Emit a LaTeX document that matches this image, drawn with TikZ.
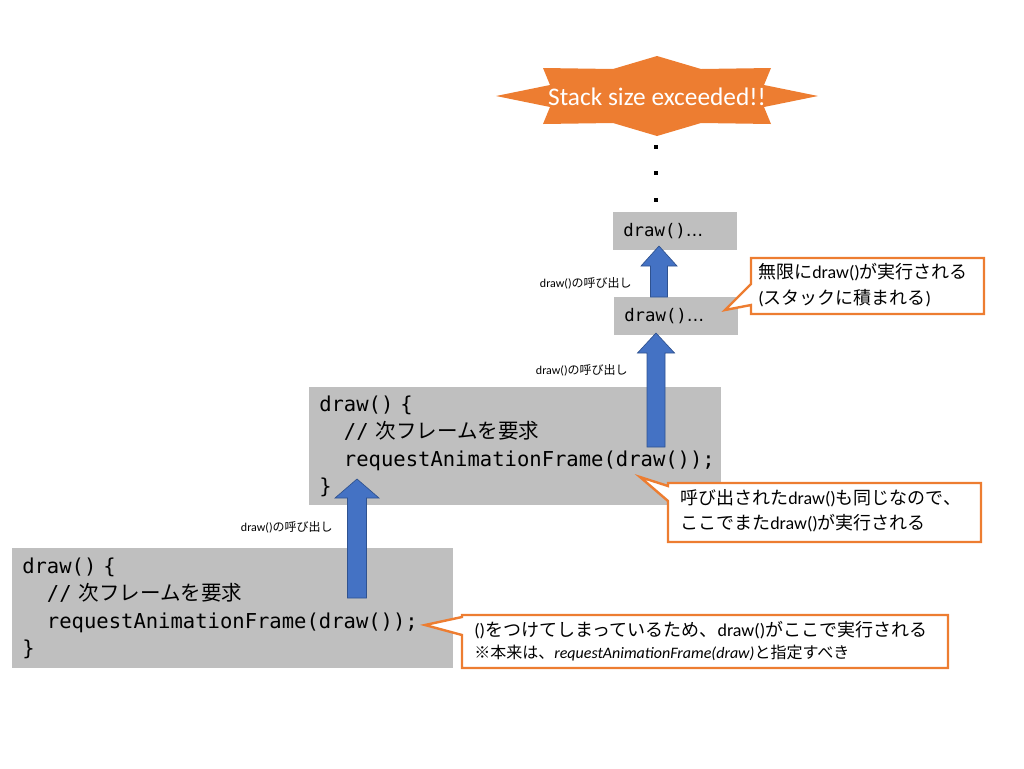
\documentclass[tikz,border=0pt]{standalone}
\usepackage{fontspec}
\setmainfont{Carlito}
\newfontfamily\cjk{Noto Sans CJK JP}
\newfontfamily\codefont{DejaVu Sans Mono}
\newfontfamily\dvs{DejaVu Sans}
\usetikzlibrary{arrows.meta,calc}
\definecolor{codegray}{HTML}{BFBFBF}
\definecolor{orng}{HTML}{ED7D31}
\definecolor{blu}{HTML}{4472C4}
\definecolor{bluedge}{HTML}{2F528F}
\newcommand{\J}[1]{{\cjk #1}}
\newcommand{\uparrowblock}[5]{%
  \filldraw[blockarr] let \p1=(#1), \p2=(#2) in
  ({\x1-#3},\y1) -- ({\x1-#3},{\y2-#5}) -- ({\x1-#4},{\y2-#5}) -- (\x2,\y2)
  -- ({\x1+#4},{\y2-#5}) -- ({\x1+#3},{\y2-#5}) -- ({\x1+#3},\y1) -- cycle;}
\begin{document}
\begin{tikzpicture}[x=0.75pt,y=-0.75pt,
  codebox/.style={fill=codegray, inner xsep=7.5pt, inner ysep=0pt, anchor=north west,
    align=left, font=\codefont\fontsize{15.4}{20.5}\selectfont},
  smallbox/.style={fill=codegray, inner xsep=7.5pt, inner ysep=0pt, anchor=north west,
    align=left, text width=78pt, minimum height=28pt, font=\codefont\fontsize{13}{15}\selectfont},
  blockarr/.style={fill=blu, draw=bluedge, line width=0.5pt},
  callout/.style={fill=white, draw=orng, line width=1.8pt, line join=miter},
  callouttext/.style={anchor=west, inner sep=0pt, align=left, font=\fontsize{13.5}{19}\selectfont},
  calllabel/.style={anchor=east, inner sep=0pt, font=\fontsize{9}{11}\selectfont},
  dotmark/.style={fill=black}]
\useasboundingbox (0,0) rectangle (1024,768);

% explosion star
\fill[orng] (818,96) -- (764,85) -- (771,68) -- (701,69) -- (657,56) -- (613,69)
  -- (543,68) -- (550,85) -- (496,96) -- (550,107) -- (543,124) -- (613,123)
  -- (657,136) -- (701,123) -- (771,124) -- (764,107) -- cycle;
\node[text=white, font=\fontsize{19}{22}\selectfont, inner sep=0pt] (star) at (657,97) {Stack size exceeded!!};

% dots
\fill[dotmark] (654,145) rectangle (658,149);
\fill[dotmark] (654,171) rectangle (658,175);
\fill[dotmark] (654,198) rectangle (658,202);

% small boxes
\node[smallbox] (top) at (613,212) {draw()\dvs …};
\node[smallbox] (mid) at (614,297) {draw()\dvs …};

% code boxes
\node[codebox, text width=294pt, minimum height=88.5pt] (code2) at (309,387)
  {draw() \{\\
   \phantom{xx}// \J{次フレームを要求}\\
   \phantom{xx}requestAnimationFrame(draw());\\
   \}};
\node[codebox, text width=315.75pt, minimum height=90pt] (code1) at (12,548)
  {draw() \{\\
   \phantom{xx}// \J{次フレームを要求}\\
   \phantom{xx}requestAnimationFrame(draw());\\
   \}};

% arrows
\coordinate (a1s) at (357,598);
\coordinate (a1e) at (357,479);
\coordinate (a2s) at (656,447);
\coordinate (a2e) at (656,333);
\coordinate (a3s) at (659,297);
\coordinate (a3e) at (659,246);
\uparrowblock{a1s}{a1e}{7.1pt}{16.5pt}{14.25pt}
\uparrowblock{a2s}{a2e}{6.75pt}{13.9pt}{15pt}
\uparrowblock{a3s}{a3e}{6.4pt}{13.5pt}{15pt}

% arrow labels
\node[calllabel] (l1) at (333,527) {draw()\J{の呼び出し}};
\node[calllabel] (l2) at (628,370) {draw()\J{の呼び出し}};
\node[calllabel] (l3) at (632,283) {draw()\J{の呼び出し}};

% callouts
\draw[callout] (751,258) -- (984,258) -- (984,314) -- (751,314) -- (751,305)
  -- (725,310) -- (751,284) -- cycle;
\node[callouttext] (c1) at (758,285)
  {\J{無限に}draw()\J{が実行される}\\(\J{スタックに積まれる})};

\draw[callout] (668,483) -- (981,483) -- (981,542) -- (668,542) -- (668,501)
  -- (640,477) -- (668,486) -- cycle;
\node[callouttext] (c2) at (680,511)
  {\J{呼び出された}draw()\J{も同じなので、}\\\J{ここでまた}draw()\J{が実行される}};

\draw[callout] (462,615) -- (948,615) -- (948,668) -- (462,668) -- (462,635)
  -- (425,625) -- (462,617) -- cycle;
\node[callouttext] (c3) at (474,641)
  {()\J{をつけてしまっているため、}draw()\J{がここで実行される}\\[-2pt]
   {\fontsize{12}{14}\selectfont\J{※本来は、}\textit{requestAnimationFrame(draw)}\J{と指定すべき}}};
\end{tikzpicture}
\end{document}
